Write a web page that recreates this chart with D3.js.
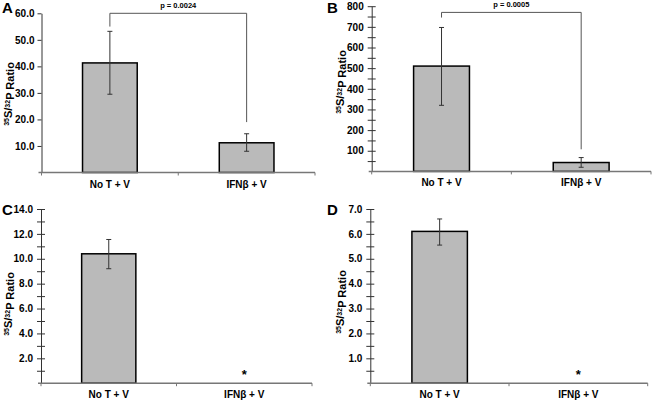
<!DOCTYPE html>
<html><head><meta charset="utf-8">
<script src="https://cdn.jsdelivr.net/npm/d3@7"></script>
<style>
body{margin:0;background:#fff;}
text{font-family:"Liberation Sans",Arial,sans-serif;font-weight:bold;fill:#000;}
</style></head>
<body>
<svg id="chart" width="652" height="400"></svg>
<script>
const categories = ["No T + V", "IFNβ + V"];
const panelLetters = ["A", "B", "C", "D"];

const valuesA = [41.3, 11.2];
const errLowA = [29.5, 8.0];
const errHighA = [53.2, 14.6];
const ticksA = [10, 20, 30, 40, 50, 60];

const valuesB = [510, 43];
const errLowB = [320, 20];
const errHighB = [697, 67];
const ticksB = [100, 200, 300, 400, 500, 600, 700, 800];
const minorB = [50, 150, 250, 350, 450, 550, 650, 750];

const valuesC = [10.4, null];
const errLowC = [9.2, null];
const errHighC = [11.55, null];
const ticksC = [2, 4, 6, 8, 10, 12, 14];
const minorC = [1, 3, 5, 7, 9, 11, 13];

const valuesD = [6.1, null];
const errLowD = [5.55, null];
const errHighD = [6.6, null];
const ticksD = [1, 2, 3, 4, 5, 6, 7];
const minorD = [0.5, 1.5, 2.5, 3.5, 4.5, 5.5, 6.5];

const pValueA = "p = 0.0024";
const pValueB = "p = 0.0005";
// bracket heights in data units: [top, left end, right end]
const bracketA = [60, 55, 19];
const bracketB = [770, 745, 107];

const svg = d3.select("#chart");

const panels = [
  {letter: panelLetters[0], vals: valuesA, lo: errLowA, hi: errHighA, ticks: ticksA, minor: [], max: 60,
   y0: 172.5, y1: 13.3, x0: 41.5, x1: 315, fmt: d3.format(".1f"), cross: false,
   p: pValueA, bracket: bracketA, letterPos: [2, 13], labelPos: [11, 94]},
  {letter: panelLetters[1], vals: valuesB, lo: errLowB, hi: errHighB, ticks: ticksB, minor: minorB, max: 800,
   y0: 171.4, y1: 6.2, x0: 371.7, x1: 651, fmt: d3.format("d"), cross: true,
   p: pValueB, bracket: bracketB, letterPos: [327, 13], labelPos: [343, 82]},
  {letter: panelLetters[2], vals: valuesC, lo: errLowC, hi: errHighC, ticks: ticksC, minor: minorC, max: 14,
   y0: 383.2, y1: 209, x0: 41, x1: 312, fmt: d3.format(".1f"), cross: true,
   p: null, letterPos: [2, 215], labelPos: [11, 304]},
  {letter: panelLetters[3], vals: valuesD, lo: errLowD, hi: errHighD, ticks: ticksD, minor: minorD, max: 7,
   y0: 383.2, y1: 209, x0: 370.3, x1: 647.7, fmt: d3.format(".1f"), cross: true,
   p: null, letterPos: [327, 215], labelPos: [343, 302]}
];

panels.forEach(pn => {
  const g = svg.append("g");
  const y = d3.scaleLinear().domain([0, pn.max]).range([pn.y0, pn.y1]);
  const x = d3.scaleBand().domain(categories).range([pn.x0, pn.x1]).paddingInner(0.6).paddingOuter(0.3);

  // y axis
  const yAxis = d3.axisLeft(y).tickValues(pn.ticks).tickFormat(pn.fmt).tickSize(4).tickPadding(3).tickSizeOuter(0);
  const ya = g.append("g").attr("transform", `translate(${pn.x0},0)`).call(yAxis);
  ya.select(".domain").attr("stroke", "#333").attr("stroke-width", 1);
  ya.selectAll(".tick line").attr("stroke", "#333");
  ya.selectAll(".tick text").style("font-size", "10px").style("font-weight", "bold")
    .style("font-family", '"Liberation Sans", Arial, sans-serif').attr("x", pn.cross ? -8 : -7);
  if (pn.cross) {
    ya.selectAll(".tick line").attr("x1", 4).attr("x2", -4);
    const minorAxis = d3.axisLeft(y).tickValues(pn.minor).tickFormat("").tickSize(4).tickSizeOuter(0);
    const ma = g.append("g").attr("transform", `translate(${pn.x0},0)`).call(minorAxis);
    ma.select(".domain").remove();
    ma.selectAll(".tick line").attr("x1", 4).attr("x2", -4).attr("stroke", "#333");
  }

  // bars
  const data = categories.map((c, i) => ({c, v: pn.vals[i], lo: pn.lo[i], hi: pn.hi[i]}));
  const barW = x.bandwidth();
  g.selectAll("rect.bar").data(data.filter(d => d.v != null)).enter().append("rect")
    .attr("x", d => x(d.c)).attr("width", barW)
    .attr("y", d => y(d.v)).attr("height", d => y(0) - y(d.v))
    .attr("fill", "#bababa").attr("stroke", "#000").attr("stroke-width", 1.5);

  // error bars
  const eb = g.selectAll("g.err").data(data.filter(d => d.v != null)).enter().append("g");
  eb.append("line").attr("x1", d => x(d.c) + barW / 2).attr("x2", d => x(d.c) + barW / 2)
    .attr("y1", d => y(d.lo)).attr("y2", d => y(d.hi)).attr("stroke", "#333").attr("stroke-width", 1);
  eb.append("line").attr("x1", d => x(d.c) + barW / 2 - 2.5).attr("x2", d => x(d.c) + barW / 2 + 2.5)
    .attr("y1", d => y(d.hi)).attr("y2", d => y(d.hi)).attr("stroke", "#333").attr("stroke-width", 1);
  eb.append("line").attr("x1", d => x(d.c) + barW / 2 - 2.5).attr("x2", d => x(d.c) + barW / 2 + 2.5)
    .attr("y1", d => y(d.lo)).attr("y2", d => y(d.lo)).attr("stroke", "#333").attr("stroke-width", 1);

  // asterisks for missing values
  g.selectAll("text.star").data(data.filter(d => d.v == null)).enter().append("text")
    .attr("x", d => x(d.c) + barW / 2).attr("y", pn.y0 - 4)
    .attr("text-anchor", "middle").style("font-size", "13px").text("*");

  // x axis
  const xa = g.append("g").attr("transform", `translate(0,${pn.y0})`);
  xa.append("line").attr("x1", pn.x0 - 3).attr("x2", pn.x1).attr("y1", 0).attr("y2", 0)
    .attr("stroke", "#777").attr("stroke-width", 1.5);
  const tickXs = [pn.x0, (pn.x0 + pn.x1) / 2, pn.x1];
  xa.selectAll("line.t").data(tickXs).enter().append("line")
    .attr("x1", d => d).attr("x2", d => d).attr("y1", 0).attr("y2", 3)
    .attr("stroke", "#777").attr("stroke-width", 1);
  xa.selectAll("text.cat").data(categories).enter().append("text")
    .attr("x", d => x(d) + barW / 2).attr("y", 15)
    .attr("text-anchor", "middle").style("font-size", "10px").text(d => d);

  // y label
  const lbl = g.append("text")
    .attr("transform", `translate(${pn.labelPos[0]},${pn.labelPos[1]}) rotate(-90)`)
    .attr("text-anchor", "middle").style("font-size", "11px");
  lbl.append("tspan").attr("dy", "-0.35em").style("font-size", "7px").text("35");
  lbl.append("tspan").attr("dy", "0.35em").text("S/");
  lbl.append("tspan").attr("dy", "-0.35em").style("font-size", "7px").text("32");
  lbl.append("tspan").attr("dy", "0.35em").text("P Ratio");

  // letter
  g.append("text").attr("x", pn.letterPos[0]).attr("y", pn.letterPos[1])
    .style("font-size", "15px").text(pn.letter);

  // significance bracket
  if (pn.p) {
    const xl = x(categories[0]) + barW / 2, xr = x(categories[1]) + barW / 2;
    const path = d3.path();
    path.moveTo(xl, y(pn.bracket[1]));
    path.lineTo(xl, y(pn.bracket[0]));
    path.lineTo(xr, y(pn.bracket[0]));
    path.lineTo(xr, y(pn.bracket[2]));
    g.append("path").attr("d", path.toString()).attr("fill", "none")
      .attr("stroke", "#555").attr("stroke-width", 1);
    g.append("text").attr("x", (xl + xr) / 2).attr("y", y(pn.bracket[0]) - 5)
      .attr("text-anchor", "middle").style("font-size", "7.5px").text(pn.p);
  }
});
</script>
</body></html>
